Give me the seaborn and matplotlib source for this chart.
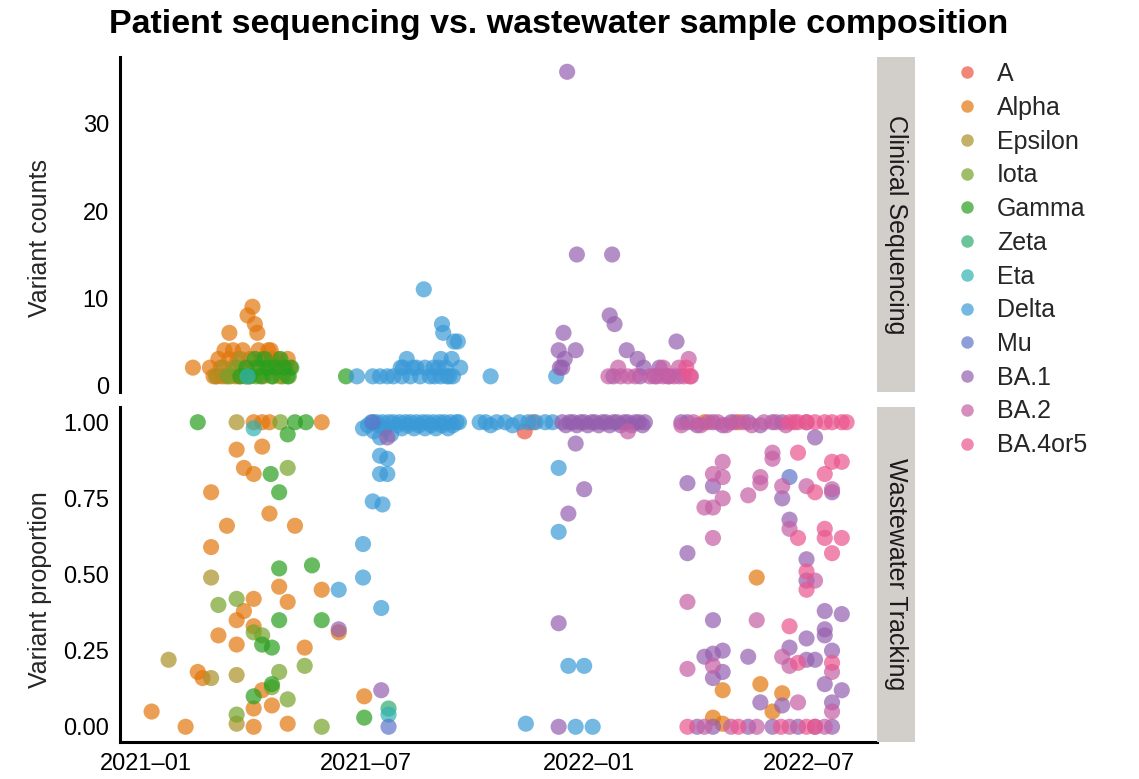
import matplotlib
matplotlib.use("Agg")
import matplotlib.pyplot as plt
import matplotlib.dates as mdates
from matplotlib.lines import Line2D
import pandas as pd
import seaborn as sns

sns.set_style("white")
plt.rcParams["font.family"] = ["Liberation Sans", "DejaVu Sans"]

variants = ["A", "Alpha", "Epsilon", "Iota", "Gamma", "Zeta", "Eta", "Delta",
            "Mu", "BA.1", "BA.2", "BA.4or5"]
colors = ["#EC5441", "#E2770C", "#AA9026", "#75A32A", "#289F1E", "#2FAB6F",
          "#30B2B2", "#3A9AD7", "#5E75C8", "#955FAE", "#C55FA5", "#EA558E"]

# ---------------- Clinical sequencing: (date, variant count) ----------------
clin_alpha = [("2021-02-09", 2), ("2021-02-23", 2), ("2021-02-26", 1), ("2021-03-01", 1),
              ("2021-03-02", 3), ("2021-03-04", 2), ("2021-03-05", 1), ("2021-03-07", 4),
              ("2021-03-08", 1), ("2021-03-11", 6), ("2021-03-11", 3), ("2021-03-14", 2),
              ("2021-03-14", 4), ("2021-03-16", 1), ("2021-03-18", 3), ("2021-03-19", 1),
              ("2021-03-21", 2), ("2021-03-22", 4), ("2021-03-25", 1), ("2021-03-26", 8),
              ("2021-03-28", 3), ("2021-03-30", 9), ("2021-04-01", 7), ("2021-04-01", 2),
              ("2021-04-03", 6), ("2021-04-04", 4), ("2021-04-07", 3), ("2021-04-08", 1),
              ("2021-04-11", 2), ("2021-04-12", 4), ("2021-04-14", 4), ("2021-04-15", 3),
              ("2021-04-18", 2), ("2021-04-20", 3), ("2021-04-22", 1), ("2021-04-26", 2),
              ("2021-04-28", 3), ("2021-04-30", 2)]
clin_epsilon = [("2021-02-28", 1), ("2021-03-06", 2), ("2021-03-12", 1), ("2021-03-20", 3),
                ("2021-03-27", 1)]
clin_iota = [("2021-03-10", 1), ("2021-03-17", 2), ("2021-03-24", 1), ("2021-04-02", 1),
             ("2021-04-10", 2), ("2021-04-16", 1), ("2021-04-24", 1), ("2021-04-29", 1)]
clin_gamma = [("2021-03-20", 1), ("2021-03-25", 2), ("2021-03-28", 1), ("2021-04-01", 3),
              ("2021-04-04", 2), ("2021-04-06", 1), ("2021-04-09", 3), ("2021-04-12", 2),
              ("2021-04-15", 1), ("2021-04-18", 2), ("2021-04-22", 3), ("2021-04-25", 2),
              ("2021-04-28", 1), ("2021-05-01", 2), ("2021-06-15", 1)]
clin_eta = [("2021-03-26", 1)]
clin_delta = [("2021-06-24", 1), ("2021-07-07", 1), ("2021-07-13", 1), ("2021-07-19", 1),
              ("2021-07-24", 1), ("2021-07-30", 2), ("2021-07-31", 1), ("2021-08-01", 2),
              ("2021-08-04", 3), ("2021-08-07", 1), ("2021-08-09", 2), ("2021-08-12", 2),
              ("2021-08-15", 1), ("2021-08-18", 11), ("2021-08-19", 2), ("2021-08-23", 1),
              ("2021-08-26", 2), ("2021-08-27", 1), ("2021-08-30", 2), ("2021-09-01", 3),
              ("2021-09-01", 1), ("2021-09-02", 7), ("2021-09-03", 6), ("2021-09-05", 2),
              ("2021-09-06", 1), ("2021-09-08", 1), ("2021-09-10", 3), ("2021-09-11", 1),
              ("2021-09-12", 5), ("2021-09-15", 5), ("2021-09-17", 2), ("2021-10-12", 1),
              ("2021-12-05", 1)]
clin_ba1 = [("2021-12-07", 4), ("2021-12-08", 2), ("2021-12-10", 2), ("2021-12-11", 6),
            ("2021-12-12", 3), ("2021-12-14", 36), ("2021-12-21", 4), ("2021-12-22", 15),
            ("2022-01-18", 8), ("2022-01-20", 15), ("2022-01-21", 1), ("2022-01-22", 7),
            ("2022-02-01", 4), ("2022-02-10", 3), ("2022-02-12", 1), ("2022-02-15", 2),
            ("2022-02-24", 1), ("2022-02-28", 2), ("2022-03-07", 1), ("2022-03-14", 5)]
clin_ba2 = [("2022-01-17", 1), ("2022-01-25", 2), ("2022-01-27", 1), ("2022-02-02", 1),
            ("2022-02-08", 1), ("2022-02-20", 1), ("2022-02-26", 1), ("2022-03-03", 1),
            ("2022-03-03", 2), ("2022-03-08", 1), ("2022-03-12", 1), ("2022-03-16", 1),
            ("2022-03-16", 2), ("2022-03-20", 1), ("2022-03-24", 3), ("2022-03-26", 1)]
clin_ba45 = [("2022-03-22", 2), ("2022-03-25", 1)]

# ---------------- Wastewater tracking: (date, variant proportion) ----------------
ww_a = [("2021-11-09", 0.97), ("2021-11-16", 1.0)]
ww_alpha = [("2021-01-06", 0.05), ("2021-02-03", 0.0), ("2021-02-13", 0.18), ("2021-02-17", 0.16),
            ("2021-02-24", 0.77), ("2021-02-24", 0.59), ("2021-03-02", 0.30), ("2021-03-09", 0.66),
            ("2021-03-17", 0.91), ("2021-03-17", 0.35), ("2021-03-17", 0.27), ("2021-03-23", 0.85),
            ("2021-03-23", 0.38), ("2021-03-31", 1.0), ("2021-03-31", 0.83), ("2021-03-31", 0.42),
            ("2021-03-31", 0.33), ("2021-03-31", 0.06), ("2021-03-31", 0.0), ("2021-04-07", 1.0),
            ("2021-04-07", 0.92), ("2021-04-07", 0.12), ("2021-04-13", 1.0), ("2021-04-13", 0.70),
            ("2021-04-15", 0.07), ("2021-04-21", 0.46), ("2021-04-28", 0.41), ("2021-04-28", 0.01),
            ("2021-05-04", 0.66), ("2021-05-12", 0.26), ("2021-05-26", 1.0), ("2021-05-26", 0.45),
            ("2021-06-09", 0.31), ("2021-06-30", 0.10), ("2022-04-06", 1.0), ("2022-05-04", 1.0),
            ("2022-05-19", 0.49), ("2022-04-21", 0.12), ("2022-05-22", 0.14), ("2022-06-09", 0.11),
            ("2022-06-01", 0.05), ("2022-04-13", 0.03), ("2022-04-21", 0.01)]
ww_epsilon = [("2021-01-20", 0.22), ("2021-02-24", 0.49), ("2021-02-24", 0.16), ("2021-03-17", 1.0),
              ("2021-03-17", 0.17), ("2021-03-17", 0.01)]
ww_iota = [("2021-03-02", 0.40), ("2021-03-17", 0.42), ("2021-03-17", 0.04), ("2021-03-31", 0.31),
           ("2021-04-07", 0.30), ("2021-04-15", 0.13), ("2021-04-21", 0.18), ("2021-04-22", 1.0),
           ("2021-04-28", 0.85), ("2021-04-28", 0.09), ("2021-05-12", 0.20), ("2021-05-26", 0.0)]
ww_gamma = [("2021-02-13", 1.0), ("2021-03-31", 0.10), ("2021-04-07", 0.27), ("2021-04-14", 0.83),
            ("2021-04-15", 0.26), ("2021-04-15", 0.14), ("2021-04-21", 0.77), ("2021-04-21", 0.52),
            ("2021-04-21", 0.35), ("2021-04-28", 0.96), ("2021-05-04", 1.0), ("2021-05-13", 1.0),
            ("2021-05-18", 0.53), ("2021-05-26", 0.35), ("2021-06-30", 0.03)]
ww_zeta = [("2021-07-20", 0.06)]
ww_eta = [("2021-03-31", 0.98), ("2021-07-20", 0.04)]
ww_delta = [("2021-06-09", 0.45), ("2021-06-29", 0.98), ("2021-06-29", 0.60), ("2021-06-29", 0.49),
            ("2021-07-03", 0.99), ("2021-07-06", 1.0), ("2021-07-07", 0.74), ("2021-07-08", 0.97),
            ("2021-07-10", 1.0), ("2021-07-12", 0.99), ("2021-07-13", 0.95), ("2021-07-13", 0.89),
            ("2021-07-13", 0.83), ("2021-07-14", 0.39), ("2021-07-15", 0.73), ("2021-07-15", 1.0),
            ("2021-07-17", 0.98), ("2021-07-19", 0.88), ("2021-07-19", 0.83), ("2021-07-20", 1.0),
            ("2021-07-22", 0.96), ("2021-07-24", 1.0), ("2021-07-27", 0.99), ("2021-07-29", 1.0),
            ("2021-07-31", 0.98), ("2021-08-03", 1.0), ("2021-08-05", 0.99), ("2021-08-07", 1.0),
            ("2021-08-10", 0.98), ("2021-08-12", 1.0), ("2021-08-14", 0.99), ("2021-08-17", 1.0),
            ("2021-08-19", 0.98), ("2021-08-21", 1.0), ("2021-08-24", 0.99), ("2021-08-26", 1.0),
            ("2021-08-28", 0.98), ("2021-08-31", 1.0), ("2021-09-02", 0.99), ("2021-09-04", 1.0),
            ("2021-09-07", 0.98), ("2021-09-09", 1.0), ("2021-09-11", 0.99), ("2021-09-14", 1.0),
            ("2021-09-16", 1.0), ("2021-10-03", 1.0), ("2021-10-08", 1.0), ("2021-10-12", 0.99),
            ("2021-10-17", 1.0), ("2021-10-24", 1.0), ("2021-10-30", 0.99), ("2021-11-05", 1.0),
            ("2021-11-10", 0.01), ("2021-11-12", 1.0), ("2021-11-18", 1.0), ("2021-11-26", 1.0),
            ("2021-12-02", 1.0), ("2021-12-07", 0.85), ("2021-12-07", 0.64), ("2021-12-15", 0.20),
            ("2021-12-21", 0.0), ("2021-12-28", 0.20), ("2022-01-04", 0.0)]
ww_mu = [("2021-07-07", 1.0), ("2021-07-20", 0.0), ("2022-06-15", 0.82)]
ww_ba1 = [("2021-06-09", 0.32), ("2021-07-14", 0.12), ("2021-07-19", 0.95), ("2021-12-07", 0.34),
          ("2021-12-07", 0.0), ("2021-12-10", 1.0), ("2021-12-13", 0.99), ("2021-12-15", 0.70),
          ("2021-12-16", 1.0), ("2021-12-19", 1.0), ("2021-12-21", 0.93), ("2021-12-22", 0.99),
          ("2021-12-25", 1.0), ("2021-12-28", 0.78), ("2021-12-28", 1.0), ("2021-12-31", 0.99),
          ("2022-01-03", 1.0), ("2022-01-06", 1.0), ("2022-01-09", 0.99), ("2022-01-12", 1.0),
          ("2022-01-15", 1.0), ("2022-01-18", 0.99), ("2022-01-21", 1.0), ("2022-01-24", 1.0),
          ("2022-01-27", 0.99), ("2022-01-30", 1.0), ("2022-02-02", 1.0), ("2022-02-05", 0.99),
          ("2022-02-08", 1.0), ("2022-02-11", 1.0), ("2022-02-14", 0.99), ("2022-02-16", 1.0),
          ("2022-03-18", 1.0), ("2022-03-23", 1.0), ("2022-03-23", 0.80), ("2022-03-23", 0.57),
          ("2022-03-31", 0.99), ("2022-03-31", 0.0), ("2022-04-06", 0.23), ("2022-04-13", 1.0),
          ("2022-04-13", 0.79), ("2022-04-13", 0.35), ("2022-04-13", 0.24), ("2022-04-13", 0.16),
          ("2022-04-13", 0.0), ("2022-04-21", 0.99), ("2022-04-21", 0.25), ("2022-04-21", 0.18),
          ("2022-04-28", 1.0), ("2022-05-12", 1.0), ("2022-05-12", 0.23), ("2022-05-12", 0.0),
          ("2022-05-22", 0.99), ("2022-05-22", 0.08), ("2022-06-01", 1.0), ("2022-06-01", 0.0),
          ("2022-06-09", 1.0), ("2022-06-09", 0.75), ("2022-06-09", 0.07), ("2022-06-15", 0.68),
          ("2022-06-15", 0.26), ("2022-06-22", 0.0), ("2022-06-29", 0.55), ("2022-06-29", 0.48),
          ("2022-06-29", 0.29), ("2022-06-29", 0.22), ("2022-07-06", 0.95), ("2022-07-06", 0.22),
          ("2022-07-06", 0.0), ("2022-07-14", 0.38), ("2022-07-14", 0.32), ("2022-07-14", 0.30),
          ("2022-07-14", 0.14), ("2022-07-20", 0.77), ("2022-07-20", 0.25), ("2022-07-20", 0.08),
          ("2022-07-20", 0.0), ("2022-07-28", 0.37), ("2022-07-28", 0.12)]
ww_ba2 = [("2022-02-02", 0.97), ("2022-03-18", 0.99), ("2022-03-23", 0.41), ("2022-03-23", 0.19),
          ("2022-03-28", 1.0), ("2022-04-03", 0.99), ("2022-04-06", 0.72), ("2022-04-06", 0.0),
          ("2022-04-09", 1.0), ("2022-04-13", 0.83), ("2022-04-13", 0.72), ("2022-04-13", 0.62),
          ("2022-04-13", 0.20), ("2022-04-17", 1.0), ("2022-04-21", 0.87), ("2022-04-21", 0.82),
          ("2022-04-21", 0.75), ("2022-04-24", 0.99), ("2022-04-28", 0.0), ("2022-05-01", 1.0),
          ("2022-05-08", 1.0), ("2022-05-12", 0.76), ("2022-05-15", 0.99), ("2022-05-19", 0.35),
          ("2022-05-19", 0.0), ("2022-05-22", 0.82), ("2022-05-22", 0.80), ("2022-05-25", 1.0),
          ("2022-06-01", 0.90), ("2022-06-01", 0.88), ("2022-06-04", 1.0), ("2022-06-09", 0.79),
          ("2022-06-09", 0.23), ("2022-06-12", 0.99), ("2022-06-15", 0.65), ("2022-06-15", 0.20),
          ("2022-06-15", 0.0), ("2022-06-19", 1.0), ("2022-06-22", 0.08), ("2022-06-29", 1.0),
          ("2022-06-29", 0.79), ("2022-07-06", 0.48), ("2022-07-14", 0.0), ("2022-07-20", 0.78),
          ("2022-07-20", 0.18), ("2022-07-20", 0.05)]
ww_ba45 = [("2022-03-23", 0.0), ("2022-05-04", 0.0), ("2022-06-08", 0.0), ("2022-06-15", 1.0),
           ("2022-06-15", 0.33), ("2022-06-22", 1.0), ("2022-06-22", 0.90), ("2022-06-22", 0.62),
           ("2022-06-22", 0.21), ("2022-06-29", 1.0), ("2022-06-29", 0.51), ("2022-06-29", 0.45),
           ("2022-06-29", 0.0), ("2022-07-06", 1.0), ("2022-07-06", 0.77), ("2022-07-06", 0.0),
           ("2022-07-14", 1.0), ("2022-07-14", 0.83), ("2022-07-14", 0.65), ("2022-07-14", 0.62),
           ("2022-07-20", 1.0), ("2022-07-20", 0.87), ("2022-07-20", 0.57), ("2022-07-20", 0.21),
           ("2022-07-28", 1.0), ("2022-07-28", 0.87), ("2022-07-28", 0.62), ("2022-08-01", 1.0)]

clinical = {"Alpha": clin_alpha, "Epsilon": clin_epsilon, "Iota": clin_iota,
            "Gamma": clin_gamma, "Eta": clin_eta, "Delta": clin_delta,
            "BA.1": clin_ba1, "BA.2": clin_ba2, "BA.4or5": clin_ba45}
wastewater = {"A": ww_a, "Alpha": ww_alpha, "Epsilon": ww_epsilon, "Iota": ww_iota,
              "Gamma": ww_gamma, "Zeta": ww_zeta, "Eta": ww_eta, "Delta": ww_delta,
              "Mu": ww_mu, "BA.1": ww_ba1, "BA.2": ww_ba2, "BA.4or5": ww_ba45}


def to_frame(groups, col):
    rows = []
    for v in variants:
        for d, val in groups.get(v, []):
            rows.append({"date": pd.Timestamp(d), col: val, "variant": v})
    return pd.DataFrame(rows)


df_clin = to_frame(clinical, "count")
df_ww = to_frame(wastewater, "prop")
pal = dict(zip(variants, colors))

W, H = 1139, 779
fig = plt.figure(figsize=(W / 100, H / 100), dpi=100)
fig.patch.set_facecolor("white")

L, R = 120 / W, 877 / W
ax1 = fig.add_axes([L, 1 - 392 / H, R - L, (392 - 57) / H])
ax2 = fig.add_axes([L, 1 - 742 / H, R - L, (742 - 407) / H], sharex=ax1)

ALPHA = 0.7
S = 135
sns.scatterplot(data=df_clin, x="date", y="count", hue="variant", hue_order=variants,
                palette=pal, s=S, alpha=ALPHA, edgecolor="none", legend=False, ax=ax1)
sns.scatterplot(data=df_ww, x="date", y="prop", hue="variant", hue_order=variants,
                palette=pal, s=S, alpha=ALPHA, edgecolor="none", legend=False, ax=ax2)

FS = 17
for ax in (ax1, ax2):
    ax.set_facecolor("white")
    for sp in ("top", "right"):
        ax.spines[sp].set_visible(False)
    ax.spines["left"].set_linewidth(2.2)
    ax.spines["left"].set_color("black")
    ax.tick_params(axis="both", which="major", length=4, width=1.6, color="black",
                   labelsize=FS, labelcolor="black", pad=4)
    ax.set_xlabel("")

ax1.spines["bottom"].set_visible(False)
ax1.tick_params(axis="x", which="both", bottom=False, labelbottom=False)
ax2.spines["bottom"].set_linewidth(2.2)
ax2.spines["bottom"].set_color("black")

ax1.set_xlim(pd.Timestamp("2020-12-11"), pd.Timestamp("2022-08-26"))
ax1.set_ylim(-0.8, 37.7)
ax1.set_yticks([0, 10, 20, 30])
ax2.set_ylim(-0.05, 1.05)
ax2.set_yticks([0, 0.25, 0.5, 0.75, 1.0])
ax2.set_yticklabels(["0.00", "0.25", "0.50", "0.75", "1.00"])
ax2.xaxis.set_major_locator(mdates.MonthLocator(bymonth=[1, 7]))
ax2.xaxis.set_major_formatter(mdates.DateFormatter("%Y\u2013%m"))

ax1.set_ylabel("Variant counts", fontsize=FS + 1)
ax2.set_ylabel("Variant proportion", fontsize=FS + 1)
ax1.yaxis.set_label_coords(-0.09, 0.46)
ax2.yaxis.set_label_coords(-0.09, 0.455)

# facet strips
for (top, bot, label) in [(57, 392, "Clinical Sequencing"), (407, 742, "Wastewater Tracking")]:
    sax = fig.add_axes([877 / W, 1 - bot / H, 38 / W, (bot - top) / H])
    sax.set_facecolor("#D2CFCB")
    sax.set_xticks([])
    sax.set_yticks([])
    for sp in sax.spines.values():
        sp.set_visible(False)
    sax.text(0.5, 0.5, label, rotation=-90, ha="center", va="center",
             fontsize=FS + 1, color="#1A1A1A", transform=sax.transAxes)

# legend
handles = [Line2D([0], [0], marker="o", linestyle="", markersize=9,
                  markerfacecolor=c, markeredgecolor="none", alpha=ALPHA) for c in colors]
fig.legend(handles, variants, loc="upper left", bbox_to_anchor=(942 / W, 1 - 52 / H),
           frameon=False, fontsize=FS + 1, labelspacing=0.39, handletextpad=0.6,
           handlelength=1.2, borderaxespad=0)

fig.text(559 / W, 1 - 25 / H, "Patient sequencing vs. wastewater sample composition",
         ha="center", va="center", fontsize=24.5, fontweight="bold", color="black")

fig.savefig("out.png", dpi=100, facecolor="white")
